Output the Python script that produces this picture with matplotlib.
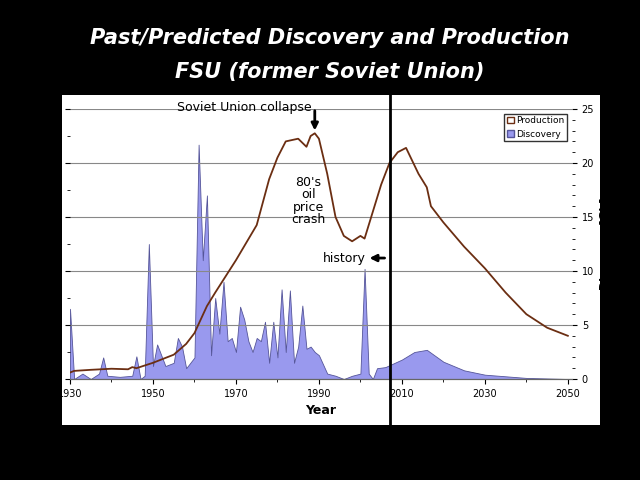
import matplotlib.pyplot as plt
import numpy as np
from matplotlib.patches import Rectangle, Patch
from matplotlib.lines import Line2D

# production [Gb/yr], left axis
prod_years = [1930, 1931, 1935, 1940, 1944, 1945, 1946, 1948, 1950, 1955, 1958, 1960, 1963, 1965,
              1970, 1975, 1978, 1980, 1982, 1985, 1987, 1988, 1989, 1990, 1992, 1994, 1996,
              1998, 2000, 2001, 2003, 2005, 2007, 2009, 2011, 2014, 2016, 2017, 2020, 2025,
              2030, 2035, 2040, 2045, 2050]
prod = [0.12, 0.15, 0.17, 0.19, 0.18, 0.22, 0.2, 0.25, 0.3, 0.45, 0.65, 0.85, 1.35, 1.6,
        2.2, 2.85, 3.7, 4.1, 4.4, 4.45, 4.3, 4.5, 4.55, 4.45, 3.8, 3.0, 2.65,
        2.55, 2.65, 2.6, 3.1, 3.6, 4.0, 4.2, 4.28, 3.8, 3.55, 3.2, 2.9, 2.45,
        2.05, 1.6, 1.2, 0.95, 0.8]

# discovery [Gb], right axis
disc_years = [1930, 1931, 1933, 1935, 1937, 1938, 1939, 1942, 1945, 1946, 1947, 1948, 1949,
              1950, 1951, 1953, 1955, 1956, 1957, 1958, 1959, 1960, 1961, 1962, 1963, 1964,
              1965, 1966, 1967, 1968, 1969, 1970, 1971, 1972, 1973, 1974, 1975, 1976, 1977,
              1978, 1979, 1980, 1981, 1982, 1983, 1984, 1985, 1986, 1987, 1988, 1989, 1990,
              1992, 1994, 1996, 1998, 2000, 2001, 2002, 2003, 2004, 2006, 2010, 2013, 2016,
              2020, 2025, 2030, 2040, 2050]
disc = [6.5, 0, 0.5, 0, 0.5, 2, 0.3, 0.2, 0.3, 2.1, 0, 0.3, 12.5,
        1.2, 3.2, 1.2, 1.5, 3.8, 3, 1, 1.5, 2, 21.7, 11, 17, 2.2,
        7.5, 4.2, 9, 3.5, 3.8, 2.5, 6.7, 5.5, 3.5, 2.5, 3.8, 3.5, 5.3,
        1.5, 5.3, 2, 8.3, 2.5, 8.2, 1.5, 3, 6.8, 2.8, 3, 2.5, 2.2,
        0.5, 0.3, 0, 0.3, 0.5, 10.2, 0.5, 0, 1, 1.1, 1.8, 2.5, 2.7,
        1.6, 0.8, 0.4, 0.1, 0]

fig = plt.figure(figsize=(6.4, 4.8), dpi=100, facecolor='black')
fig.add_artist(Rectangle((62 / 640, 1 - 425 / 480), 538 / 640, 330 / 480,
                         transform=fig.transFigure, facecolor='white', edgecolor='none', zorder=-5))

ax = fig.add_axes([70 / 640, 1 - 379 / 480, 502 / 640, 270 / 480])
ax.set_facecolor('white')
ax2 = ax.twinx()

ax2.fill_between(disc_years, disc, color='#9999ee', edgecolor='#555599', linewidth=0.6)
ax2.set_ylim(0, 25)
ax2.set_yticks(range(0, 26, 5))
ax2.set_yticks(range(0, 26), minor=True)
ax2.set_ylabel('Discovery [Gb]', fontsize=8, fontweight='bold')

ax.plot(prod_years, prod, color='#6b2e12', linewidth=1.3, zorder=5)
ax.set_zorder(ax2.get_zorder() + 1)
ax.patch.set_visible(False)
ax.set_ylim(0, 5)
ax.set_yticks(np.arange(0, 5.1, 1.0))
ax.set_yticklabels(['%.1f' % v for v in np.arange(0, 5.1, 1.0)])
ax.set_yticks(np.arange(0, 5.1, 0.5), minor=True)
ax.set_xlim(1930, 2051)
ax.set_xticks(range(1930, 2051, 20))
ax.set_xticks(range(1930, 2051, 10), minor=True)
ax.grid(axis='y', color='#888888', linewidth=0.8)
ax.set_ylabel('Production [Gb]', fontsize=8, fontweight='bold')
ax.set_xlabel('Year', fontsize=9, fontweight='bold')
for a in (ax, ax2):
    a.tick_params(labelsize=7)
    for s in ('top', 'left', 'right'):
        a.spines[s].set_visible(False)
    a.spines['bottom'].set_color('#666666')

handles = [Patch(facecolor='white', edgecolor='#6b2e12', label='Production'),
           Patch(facecolor='#9999ee', edgecolor='#555599', label='Discovery')]
ax.legend(handles=handles, loc='upper right', fontsize=6.5, fancybox=False,
          edgecolor='black', handlelength=0.8, handletextpad=0.3, borderpad=0.3)

ax.annotate('', xy=(1989, 4.55), xytext=(1989, 5.02),
            arrowprops=dict(arrowstyle='-|>', color='black', lw=2, mutation_scale=10))
ax.text(1972, 5.02, 'Soviet Union collapse', fontsize=9, ha='center', va='center', clip_on=False)
ax.text(1987.5, 3.3, "80's\noil\nprice\ncrash", fontsize=9, ha='center', va='center', linespacing=0.95)
ax.annotate('', xy=(2001.5, 2.24), xytext=(2006.5, 2.24),
            arrowprops=dict(arrowstyle='-|>', color='black', lw=2, mutation_scale=10))
ax.text(2001.3, 2.24, 'history', fontsize=9, ha='right', va='center')

fig.add_artist(Line2D([390 / 640, 390 / 640], [0, 1 - 95 / 480], transform=fig.transFigure,
                      color='black', linewidth=2))

fig.text(0.515, 0.92, 'Past/Predicted Discovery and Production', color='white', fontsize=15,
         fontweight='bold', fontstyle='italic', ha='center', va='center')
fig.text(0.515, 0.85, 'FSU (former Soviet Union)', color='white', fontsize=15,
         fontweight='bold', fontstyle='italic', ha='center', va='center')

fig.savefig('out.png', dpi=100, facecolor='black')
